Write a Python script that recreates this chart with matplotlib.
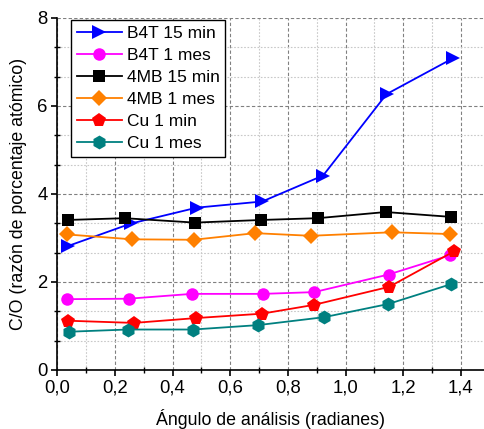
import matplotlib
matplotlib.use("Agg")
import matplotlib.pyplot as plt
from matplotlib.ticker import MultipleLocator

plt.rcParams['font.family'] = ['Liberation Sans', 'DejaVu Sans']
plt.rcParams['font.size'] = 12.8

# Analysis angle (radians) and C/O atomic ratio per sample
angle_b4t_15 = [0.038, 0.256, 0.484, 0.711, 0.922, 1.142, 1.371]
co_b4t_15 = [2.82, 3.33, 3.69, 3.83, 4.42, 6.27, 7.08]

angle_b4t_1m = [0.033, 0.247, 0.466, 0.712, 0.891, 1.149, 1.363]
co_b4t_1m = [1.61, 1.62, 1.73, 1.73, 1.77, 2.17, 2.61]

angle_4mb_15 = [0.036, 0.234, 0.477, 0.708, 0.903, 1.139, 1.365]
co_4mb_15 = [3.41, 3.45, 3.35, 3.41, 3.45, 3.59, 3.48]

angle_4mb_1m = [0.035, 0.259, 0.473, 0.686, 0.879, 1.160, 1.362]
co_4mb_1m = [3.08, 2.97, 2.96, 3.11, 3.05, 3.13, 3.09]

angle_cu_1 = [0.037, 0.266, 0.481, 0.710, 0.890, 1.151, 1.377]
co_cu_1 = [1.12, 1.07, 1.18, 1.28, 1.48, 1.89, 2.70]

angle_cu_1m = [0.041, 0.244, 0.471, 0.696, 0.925, 1.148, 1.365]
co_cu_1m = [0.87, 0.92, 0.92, 1.02, 1.20, 1.50, 1.95]

labels = ["B4T 15 min", "B4T 1 mes", "4MB 15 min", "4MB 1 mes", "Cu 1 min", "Cu 1 mes"]
colors = ["#0000FF", "#FF00FF", "#000000", "#FF8000", "#FF0000", "#008080"]
markers = [">", "o", "s", "D", "p", "h"]
sizes = [10, 9, 8, 8, 10, 10]

series = [
    (angle_b4t_15, co_b4t_15),
    (angle_b4t_1m, co_b4t_1m),
    (angle_4mb_15, co_4mb_15),
    (angle_4mb_1m, co_4mb_1m),
    (angle_cu_1, co_cu_1),
    (angle_cu_1m, co_cu_1m),
]

fig = plt.figure(figsize=(4.84, 4.29), dpi=100)
ax = fig.add_axes([57.3 / 484, 1 - 370 / 429, 1 - 57.3 / 484, 352 / 429])

for (x, y), lab, c, m, s in zip(series, labels, colors, markers, sizes):
    ax.plot(x, y, color=c, marker=m, markersize=s, markeredgewidth=0,
            linewidth=1.3, label=lab, zorder=3)

ax.set_xlim(0, 1.48)
ax.set_ylim(0, 8)
ax.xaxis.set_major_locator(MultipleLocator(0.2))
ax.xaxis.set_minor_locator(MultipleLocator(0.1))
ax.yaxis.set_major_locator(MultipleLocator(2))
ax.yaxis.set_minor_locator(MultipleLocator(2 / 3))
ax.xaxis.set_major_formatter(plt.FuncFormatter(lambda v, p: f"{v:.1f}".replace(".", ",")))
ax.yaxis.set_major_formatter(plt.FuncFormatter(lambda v, p: f"{v:.0f}"))

ax.grid(which="major", color="#808080", linestyle=(0, (3, 2)), linewidth=0.8)
ax.grid(which="minor", color="#c8c8c8", linestyle=(0, (1.5, 1.5)), linewidth=0.8)
ax.set_axisbelow(True)

for side in ("top", "right"):
    ax.spines[side].set_visible(False)
for side in ("left", "bottom"):
    ax.spines[side].set_linewidth(1.2)

ax.tick_params(which="major", direction="out", length=4.5, width=1.2, labelsize=13.3, pad=2.5)
ax.tick_params(which="minor", direction="inout", length=4, width=1.0)

ax.set_xlabel("Ángulo de análisis (radianes)", labelpad=9)
ax.set_ylabel("C/O (razón de porcentaje atómico)", labelpad=7)

leg = ax.legend(loc="upper left", bbox_to_anchor=(0.032, 0.994), frameon=True,
                fancybox=False, edgecolor="black", framealpha=1, fontsize=12.5,
                handlelength=2.6, handletextpad=0.3, labelspacing=0.4,
                borderpad=0.32, borderaxespad=0)
leg.get_frame().set_linewidth(1.0)

fig.savefig("out.png", dpi=100)
